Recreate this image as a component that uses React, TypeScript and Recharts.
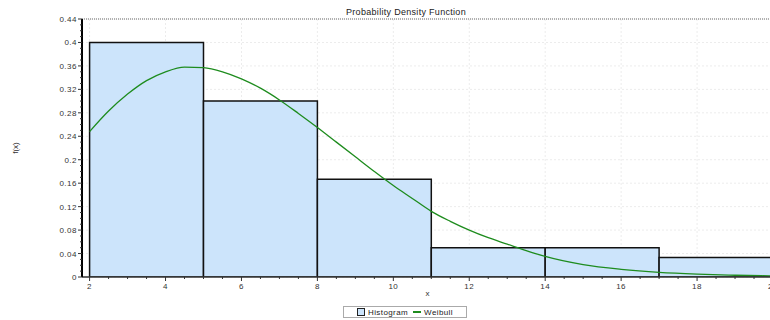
import React from "react";
import {
  ComposedChart,
  XAxis,
  YAxis,
  CartesianGrid,
  Line,
  ReferenceArea,
  ReferenceLine,
  Label,
} from "recharts";

// histogram bins
const binStart = [2, 5, 8, 11, 14, 17];
const binEnd = [5, 8, 11, 14, 17, 20];
const density = [0.4, 0.3, 0.1667, 0.05, 0.05, 0.0333];

// fitted weibull curve
const curveX = [
  2, 2.5, 3, 3.5, 4, 4.5, 5, 5.5, 6, 6.5, 7, 7.5, 8, 8.5, 9, 9.5, 10, 10.5,
  11, 11.5, 12, 12.5, 13, 13.5, 14, 15, 16, 17, 18, 19, 20,
];
const weibull = [
  0.248, 0.283, 0.312, 0.335, 0.35, 0.358, 0.357, 0.35, 0.338, 0.322, 0.302,
  0.279, 0.255, 0.23, 0.205, 0.18, 0.156, 0.134, 0.112, 0.095, 0.08, 0.067,
  0.056, 0.045, 0.035, 0.021, 0.013, 0.0078, 0.0048, 0.003, 0.0018,
];

const xMajor = [2, 4, 6, 8, 10, 12, 14, 16, 18, 20];
const yMajor = [0, 0.04, 0.08, 0.12, 0.16, 0.2, 0.24, 0.28, 0.32, 0.36, 0.4, 0.44];

const xMinor = Array.from({ length: 37 }, (_, i) => 2 + i * 0.5);
const yMinor = Array.from({ length: 45 }, (_, i) => +(i * 0.01).toFixed(2));

const data = curveX.map((x, i) => ({ x, pdf: weibull[i] }));

const FONT = "'Liberation Sans', Arial, sans-serif";
const BAR_FILL = "#cce4fb";
const CURVE = "#1e8c1e";

const XTick = (props: any) => {
  const { x, y, payload } = props;
  const v = payload.value;
  const major = xMajor.some((m) => Math.abs(m - v) < 1e-6);
  return (
    <g>
      <line x1={x} x2={x} y1={y} y2={y + (major ? 4 : 2)} stroke="#333" />
      {major && (
        <text
          x={x}
          y={y + 12}
          textAnchor="middle"
          fontSize={8}
          fill="#333"
          fontFamily={FONT}
          letterSpacing={0.5}
        >
          {v}
        </text>
      )}
    </g>
  );
};

const YTick = (props: any) => {
  const { x, y, payload } = props;
  const v = payload.value;
  const major = yMajor.some((m) => Math.abs(m - v) < 1e-6);
  return (
    <g>
      <line x1={x - (major ? 4 : 2)} x2={x} y1={y} y2={y} stroke="#333" />
      {major && (
        <text
          x={x - 5}
          y={y + 3}
          textAnchor="end"
          fontSize={8}
          fill="#333"
          fontFamily={FONT}
          letterSpacing={0.5}
        >
          {+v.toFixed(2)}
        </text>
      )}
    </g>
  );
};

export default function App() {
  return (
    <div
      style={{
        position: "relative",
        width: 770,
        height: 320,
        overflow: "hidden",
        background: "#fff",
        fontFamily: FONT,
      }}
    >
      <style>{"body{margin:0}"}</style>
      <div
        style={{
          position: "absolute",
          left: 406,
          top: 7,
          transform: "translateX(-50%)",
          fontSize: 9,
          color: "#222",
          whiteSpace: "nowrap",
          letterSpacing: 0.3,
        }}
      >
        Probability Density Function
      </div>
      <ComposedChart
        width={780}
        height={320}
        data={data}
        margin={{ top: 19, right: 7, bottom: 19, left: 0 }}
      >
        <CartesianGrid
          stroke="#ececec"
          strokeDasharray="2 2"
          verticalValues={xMajor}
          horizontalValues={yMajor}
        />
        <XAxis
          type="number"
          dataKey="x"
          domain={[1.8, 20]}
          allowDataOverflow
          ticks={xMinor}
          interval={0}
          tick={<XTick />}
          tickLine={false}
          tickSize={0}
          tickMargin={0}
          height={24}
          axisLine={{ stroke: "#333", strokeWidth: 1.5 }}
        >
          <Label
            value="x"
            position="insideBottom"
            offset={5}
            fontSize={8}
            fill="#333"
          />
        </XAxis>
        <YAxis
          type="number"
          domain={[0, 0.44]}
          allowDataOverflow
          ticks={yMinor}
          interval={0}
          tick={<YTick />}
          tickLine={false}
          tickSize={0}
          tickMargin={0}
          width={82}
          axisLine={{ stroke: "#000", strokeWidth: 2 }}
        >
          <Label
            value="f(x)"
            angle={-90}
            position="insideLeft"
            offset={15}
            fontSize={8}
            fill="#333"
            style={{ textAnchor: "middle" }}
          />
        </YAxis>
        <ReferenceLine
          y={0.44}
          stroke="#999"
          strokeDasharray="1 1"
          strokeWidth={1.5}
        />
        {binStart.map((s, i) => (
          <ReferenceArea
            key={i}
            x1={s}
            x2={binEnd[i]}
            y1={0}
            y2={density[i]}
            fill={BAR_FILL}
            fillOpacity={1}
            stroke="#111"
            strokeWidth={1.5}
            ifOverflow="hidden"
          />
        ))}
        <Line
          type="monotone"
          dataKey="pdf"
          stroke={CURVE}
          strokeWidth={1.3}
          dot={false}
          isAnimationActive={false}
        />
      </ComposedChart>
      <div
        style={{
          position: "absolute",
          left: 343,
          top: 306,
          width: 124,
          height: 12,
          border: "1px solid #aaa",
          display: "flex",
          alignItems: "center",
          justifyContent: "center",
          fontSize: 8,
          color: "#222",
          letterSpacing: 0.4,
          boxSizing: "border-box",
        }}
      >
        <span
          style={{
            display: "inline-block",
            width: 6,
            height: 6,
            background: BAR_FILL,
            border: "1px solid #222",
            marginRight: 3,
          }}
        />
        Histogram
        <span
          style={{
            display: "inline-block",
            width: 8,
            height: 1.5,
            background: CURVE,
            margin: "0 3px 0 5px",
          }}
        />
        Weibull
      </div>
    </div>
  );
}
